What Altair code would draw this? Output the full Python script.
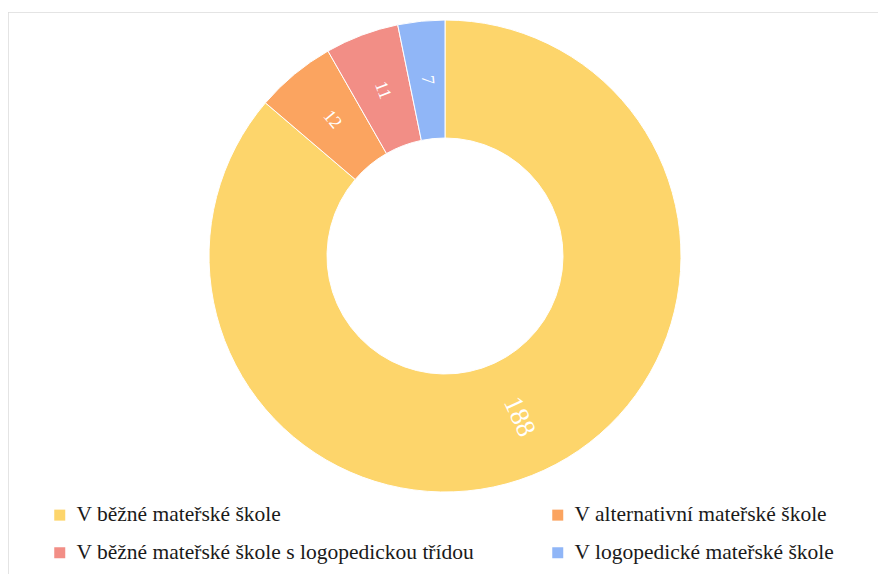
import altair as alt
import pandas as pd

categories = [
    "V běžné mateřské škole",
    "V alternativní mateřské škole",
    "V běžné mateřské škole s logopedickou třídou",
    "V logopedické mateřské škole",
]
values = [188, 12, 11, 7]
palette = ["#FDD56B", "#FBA460", "#F28E86", "#90B6F7"]

df = pd.DataFrame({"kategorie": categories, "pocet": values, "poradi": list(range(len(values)))})

W, H = 870, 562
CX, CY = 437, 244
SERIF = "Liberation Serif"

base = alt.Chart(df)

color = alt.Color(
    "kategorie:N",
    scale=alt.Scale(domain=categories, range=palette),
    sort=categories,
    legend=alt.Legend(
        title=None,
        orient="none",
        legendX=41,
        legendY=492,
        columns=2,
        values=[categories[0], categories[2], categories[1], categories[3]],
        columnPadding=72,
        rowPadding=15,
        symbolType="square",
        symbolSize=121,
        symbolStrokeWidth=0,
        labelFont=SERIF,
        labelFontSize=21.5,
        labelColor="#1a1a1a",
        labelLimit=700,
        labelOffset=6,
    ),
)

arcs = base.mark_arc(innerRadius=118, outerRadius=236, stroke="white", strokeWidth=1).encode(
    theta=alt.Theta("pocet:Q", stack=True),
    color=color,
    order=alt.Order("poradi:Q"),
    x=alt.value(CX),
    y=alt.value(CY),
)

labels = base.transform_window(
    cum="sum(pocet)", sort=[alt.SortField("poradi")], frame=[None, 0]
).transform_joinaggregate(
    total="sum(pocet)"
).transform_calculate(
    mid="(datum.cum - datum.pocet/2) / datum.total * 360"
).transform_calculate(
    rot="datum.mid < 180 ? datum.mid - 90 : datum.mid - 270"
).mark_text(
    radius=177, font=SERIF, color="white", baseline="middle", align="center"
).encode(
    theta=alt.Theta("pocet:Q", stack=True),
    order=alt.Order("poradi:Q"),
    text=alt.Text("pocet:Q"),
    angle=alt.Angle("rot:Q", scale=None),
    size=alt.condition("datum.pocet > 100", alt.value(27), alt.value(18)),
    x=alt.value(CX),
    y=alt.value(CY),
)

frame = alt.Chart(alt.Data(values=[{"a": 1}])).mark_rect(
    fill=None, stroke="#dcdcdc", strokeWidth=1.5, clip=True
).encode(
    x=alt.value(0), x2=alt.value(W + 40), y=alt.value(0), y2=alt.value(H + 40)
)

chart = alt.layer(frame, arcs, labels).properties(
    width=W,
    height=H,
    padding={"left": 0, "top": 4, "right": 0, "bottom": 0},
    autosize=alt.AutoSizeParams(type="none"),
).configure(font=SERIF).configure_view(stroke=None)

chart.save("out.html", embed_options={"renderer": "svg", "actions": False})
